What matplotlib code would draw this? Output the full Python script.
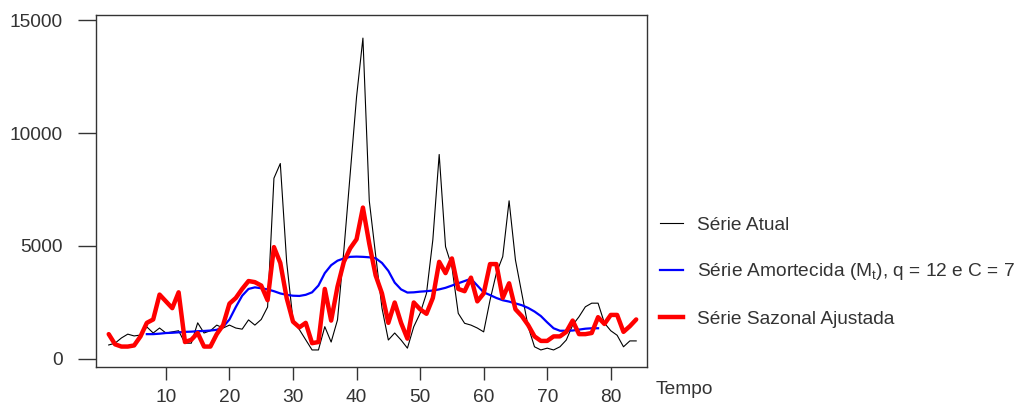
import numpy as np
import matplotlib
matplotlib.use("Agg")
import matplotlib.pyplot as plt
from matplotlib.lines import Line2D

plt.rcParams['font.family'] = ['Liberation Sans', 'DejaVu Sans']
plt.rcParams['mathtext.fontset'] = 'custom'
plt.rcParams['mathtext.rm'] = 'Liberation Sans'

# serie atual (t = 1..84)
atual = [620, 700, 930, 1100, 1020, 1060, 1420, 1150, 1370, 1150,
         1200, 1250, 700, 700, 1600, 1150, 1250, 1500, 1370, 1500,
         1370, 1320, 1730, 1500, 1750, 2300, 8000, 8650, 4300, 1700,
         1300, 850, 400, 400, 1430, 750, 1730, 4800, 8200, 11600,
         14200, 7000, 4600, 2250, 840, 1150, 840, 480, 1430, 2020,
         2900, 5270, 9050, 4970, 4080, 2020, 1580, 1500, 1370, 1200,
         2600, 3800, 4530, 7000, 4380, 2900, 1430, 540, 400, 480,
         400, 540, 840, 1500, 1870, 2310, 2470, 2470, 1590, 1250,
         1050, 540, 800, 800]

# serie amortecida, t = 7..78
amortecida = [1100, 1100, 1120, 1150, 1160, 1180, 1200, 1210, 1230, 1240,
              1260, 1290, 1420, 1750, 2300, 2800, 3100, 3170, 3130, 3080,
              3000, 2900, 2840, 2800, 2790, 2840, 2950, 3250, 3800, 4150,
              4350, 4450, 4520, 4530, 4520, 4500, 4460, 4250, 3900, 3380,
              3080, 2940, 2950, 2980, 3000, 3030, 3080, 3150, 3250, 3350,
              3450, 3550, 3250, 2950, 2830, 2700, 2600, 2540, 2460, 2380,
              2260, 2100, 1900, 1620, 1360, 1250, 1250, 1260, 1300, 1340,
              1360, 1360]

# serie sazonal ajustada (t = 1..84)
sazonal = [1100, 650, 550, 550, 600, 1000, 1600, 1750, 2850, 2550,
           2250, 2950, 750, 850, 1150, 550, 550, 1100, 1500, 2450,
           2700, 3100, 3450, 3400, 3250, 2600, 4950, 4250, 2700, 1650,
           1400, 1600, 700, 750, 3100, 1700, 3200, 4300, 4900, 5300,
           6700, 5100, 3700, 2900, 1600, 2500, 1600, 900, 2500, 2200,
           2000, 2700, 4300, 3800, 4450, 3100, 3000, 3600, 2550, 2900,
           4200, 4200, 2700, 3350, 2200, 1900, 1500, 1000, 800, 800,
           1000, 1000, 1200, 1700, 1100, 1100, 1150, 1850, 1550, 1950,
           1950, 1200, 1450, 1750]

t = np.arange(1, len(atual) + 1)
t_m = np.arange(7, 7 + len(amortecida))

W, H = 1027, 405
FS = 13.8
fig = plt.figure(figsize=(W / 100, H / 100), dpi=100)
ax = fig.add_axes([96 / W, 1 - 366.7 / H, 551 / W, 352 / H])

ax.plot(t, atual, color='black', lw=0.8)
ax.plot(t_m, amortecida, color='#0000ff', lw=1.6)
ax.plot(t, sazonal, color='#ff0000', lw=3.2,
        solid_joinstyle='round', solid_capstyle='round')

ax.set_xlim(-1.0, 85.7)
ax.set_ylim(-341, 15235)
ax.set_xticks(range(10, 81, 10))
ax.set_yticks([0, 5000, 10000, 15000])

for s in ax.spines.values():
    s.set_color('#333333')
    s.set_linewidth(1.0)
ax.tick_params(axis='y', length=13, width=1, pad=11, labelsize=FS,
               colors='#333333')
ax.tick_params(axis='x', length=9, width=1, pad=7, labelsize=FS,
               colors='#333333')

handles = [Line2D([], [], color='black', lw=0.8),
           Line2D([], [], color='#0000ff', lw=1.6),
           Line2D([], [], color='#ff0000', lw=3.2)]
labels = ['Série Atual',
          r'Série Amortecida (M$_\mathregular{t}$), q = 12 e C = 7',
          'Série Sazonal Ajustada']
leg = fig.legend(handles, labels, loc='center left',
                 bbox_to_anchor=(660 / W, 1 - 272 / H), frameon=False,
                 fontsize=FS, handlelength=1.2, handletextpad=0.75,
                 labelspacing=1.45, borderpad=0, borderaxespad=0)
for txt in leg.get_texts():
    txt.set_color('#333333')

fig.text(656 / W, 1 - 390 / H, 'Tempo', fontsize=FS, color='#333333',
         va='center', ha='left')

fig.savefig('out.png', dpi=100)
